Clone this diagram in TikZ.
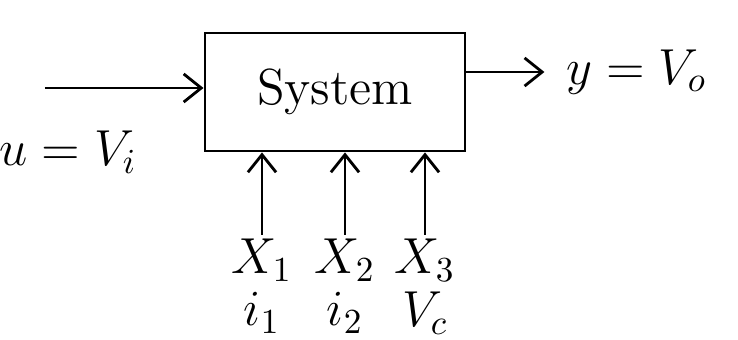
\documentclass[tikz,border=0pt]{standalone}
\usetikzlibrary{positioning, arrows.meta}
\usepackage{amsmath,amssymb}

\begin{document}
\begin{tikzpicture}[
  x=0.01cm, y=-0.01cm, >={Straight Barb[length=5pt,width=8pt]}, font=\Large,
  block/.style={draw, rectangle, thick, minimum width=2.6cm, minimum height=1.18cm, inner sep=0pt},
  arrow/.style={->, thick},
  lbl/.style={inner sep=1pt}
]
\useasboundingbox (0,0) rectangle (738,340);
\node[block] (sys) at (335,92) {\Large System};
\coordinate (uin) at (45,88);
\node[lbl] (u) at (68,152) {$u=V_i$};
\node[lbl, anchor=west] (y) at (562,72) {$y=V_o$};
\node[lbl] (x1) at (262,260) {$X_1$};
\node[lbl] (x2) at (345,260) {$X_2$};
\node[lbl] (x3) at (425,260) {$X_3$};
\node[lbl] (i1) at (262,313) {$i_1$};
\node[lbl] (i2) at (345,313) {$i_2$};
\node[lbl] (vc) at (425,313) {$V_c$};

\draw[arrow] (uin) -- (uin -| sys.west);
\draw[arrow] (sys.east |- y.west) -- ([xshift=-5pt]y.west);
\draw[arrow] (x1.north) -- (x1.north |- sys.south);
\draw[arrow] (x2.north) -- (x2.north |- sys.south);
\draw[arrow] (x3.north) -- (x3.north |- sys.south);

\end{tikzpicture}
\end{document}
